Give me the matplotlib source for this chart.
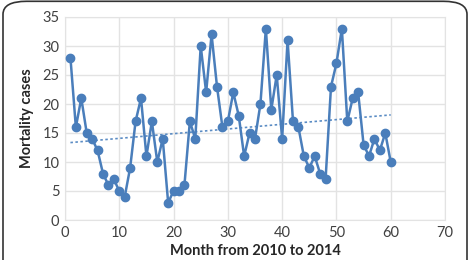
import matplotlib
matplotlib.use("Agg")
import matplotlib.pyplot as plt
import numpy as np
from matplotlib.patches import FancyBboxPatch

months = list(range(1, 61))
cases = [28, 16, 21, 15, 14, 12, 8, 6, 7, 5,
         4, 9, 17, 21, 11, 17, 10, 14, 3, 5,
         5, 6, 17, 14, 30, 22, 32, 23, 16, 17,
         22, 18, 11, 15, 14, 20, 33, 19, 25, 14,
         31, 17, 16, 11, 9, 11, 8, 7, 23, 27,
         33, 17, 21, 22, 13, 11, 14, 12, 15, 10]
x_ticks = [0, 10, 20, 30, 40, 50, 60, 70]
y_ticks = [0, 5, 10, 15, 20, 25, 30, 35]

plt.rcParams['font.family'] = ['Lato', 'DejaVu Sans']

fig = plt.figure(figsize=(4.71, 2.60), dpi=100)
ax = fig.add_axes([65/471, 1 - 220/260, 380/471, 203/260])

line_color = '#4a7ebb'
ax.plot(months, cases, color=line_color, lw=1.8, marker='o', ms=6,
        markerfacecolor=line_color, markeredgecolor=line_color, zorder=3)

coef = np.polyfit(months, cases, 1)
xt = np.array([months[0], months[-1]])
ax.plot(xt, np.polyval(coef, xt), color='#5b8cc4', lw=1.2, ls=(0, (1.5, 1.5)), zorder=2)

ax.set_xlim(0, 70)
ax.set_ylim(0, 35)
ax.set_xticks(x_ticks)
ax.set_yticks(y_ticks)
ax.grid(True, color='#e3e3e3', lw=1)
ax.set_axisbelow(True)
for s in ax.spines.values():
    s.set_color('#e3e3e3')
ax.tick_params(length=0, labelsize=10.5, labelcolor='#404040', pad=4)
ax.set_xlabel('Month from 2010 to 2014', fontsize=10.5, fontweight='bold', color='#262626', labelpad=3)
ax.set_ylabel('Mortality cases', fontsize=10.5, fontweight='bold', color='#262626', labelpad=6)

box = FancyBboxPatch((3/471, -0.2), 464/471, 1.195, boxstyle='round,pad=0,rounding_size=0.05',
                     transform=fig.transFigure, fill=False, ec='#333333', lw=1.2)
fig.patches.append(box)

fig.savefig('out.png', dpi=100)
